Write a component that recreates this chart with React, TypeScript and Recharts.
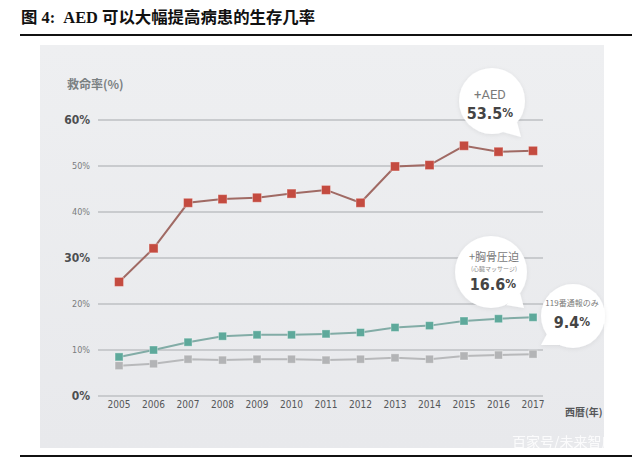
import React from 'react';
import { LineChart, Line, XAxis, YAxis, CartesianGrid } from 'recharts';

const YEARS = [2005, 2006, 2007, 2008, 2009, 2010, 2011, 2012, 2013, 2014, 2015, 2016, 2017];
const AED = [24.8, 32.1, 42.0, 42.8, 43.1, 44.0, 44.8, 42.0, 49.9, 50.2, 54.4, 53.1, 53.3];
const CPR = [8.5, 10.0, 11.7, 13.0, 13.3, 13.3, 13.5, 13.8, 14.9, 15.3, 16.3, 16.8, 17.1];
const CALL_ONLY = [6.6, 7.0, 8.0, 7.8, 8.0, 8.0, 7.8, 8.0, 8.3, 8.0, 8.7, 8.9, 9.1];
const Y_TICKS = [0, 10, 20, 30, 40, 50, 60];
const BIG_TICKS = [0, 30, 60];

const data = YEARS.map((year, i) => ({ year, aed: AED[i], cpr: CPR[i], call: CALL_ONLY[i] }));

const NUM_FONT = '"DejaVu Sans Condensed", "Liberation Sans Narrow", "Roboto", sans-serif';
const CJK_FONT = '"Noto Sans CJK JP", "Noto Sans CJK SC", sans-serif';

const squareDot = (fill: string, size: number) => (props: any) => {
  const { cx, cy, index } = props;
  if (cx == null || cy == null) return <g key={index} />;
  return (
    <rect
      key={index}
      x={cx - size / 2}
      y={cy - size / 2}
      width={size}
      height={size}
      fill={fill}
      stroke="rgba(255,255,255,0.35)"
      strokeWidth={1}
    />
  );
};

const YTick = (props: any) => {
  const { x, y, payload } = props;
  const big = BIG_TICKS.includes(payload.value);
  return (
    <text
      x={x}
      y={y}
      textAnchor="end"
      dominantBaseline="central"
      fontFamily={NUM_FONT}
      fontSize={big ? 12 : 9}
      fontWeight={big ? 700 : 400}
      fill={big ? '#4d4f51' : '#7a7c7e'}
    >
      {payload.value}%
    </text>
  );
};

const XTick = (props: any) => {
  const { x, y, payload } = props;
  return (
    <text
      x={x}
      y={y}
      textAnchor="middle"
      dominantBaseline="central"
      fontFamily={NUM_FONT}
      fontSize={10}
      fill="#555759"
    >
      {payload.value}
    </text>
  );
};

const Bubble = ({ cx, cy, r, tail }: { cx: number; cy: number; r: number; tail: number[][] }) => (
  <g filter="url(#bshadow)">
    <circle cx={cx} cy={cy} r={r} fill="#ffffff" />
    <polygon points={tail.map((p) => p.join(',')).join(' ')} fill="#ffffff" />
  </g>
);

export default function App() {
  return (
    <div style={{ position: 'absolute', left: 0, top: 0, width: 640, height: 459, background: '#ffffff', overflow: 'hidden' }}>
      <div
        style={{
          position: 'absolute',
          left: 21,
          top: 6,
          fontFamily: '"Liberation Serif", "Noto Sans CJK SC", serif',
          fontWeight: 700,
          fontSize: 16.4,
          color: '#111',
          lineHeight: '24px',
          whiteSpace: 'nowrap',
        }}
      >
        图 4:&nbsp; AED 可以大幅提高病患的生存几率
      </div>
      <div style={{ position: 'absolute', left: 20, top: 34, width: 612, height: 2, background: '#111' }} />
      <div
        style={{
          position: 'absolute',
          left: 40,
          top: 45,
          width: 564,
          height: 403,
          background: 'linear-gradient(#eeeff1, #e8e9ec)',
        }}
      />
      <div style={{ position: 'absolute', left: 0, top: 0 }}>
        <LineChart width={640} height={459} data={data} margin={{ top: 120, right: 97, bottom: 33, left: 48 }}>
          <CartesianGrid horizontal vertical={false} stroke="#c9cbce" strokeWidth={2} />
          <XAxis
            dataKey="year"
            type="number"
            domain={[2004.39, 2017.29]}
            ticks={YEARS}
            axisLine={false}
            tickLine={false}
            height={30}
            tick={<XTick />}
            interval={0}
          />
          <YAxis
            type="number"
            domain={[0, 60]}
            ticks={Y_TICKS}
            axisLine={false}
            tickLine={false}
            width={50}
            tick={<YTick />}
            interval={0}
          />
          <Line
            dataKey="call"
            stroke="#b8b9bb"
            strokeWidth={2}
            dot={squareDot('#b3b4b6', 8)}
            isAnimationActive={false}
          />
          <Line
            dataKey="cpr"
            stroke="#82aca6"
            strokeWidth={2}
            dot={squareDot('#5ea99b', 8)}
            isAnimationActive={false}
          />
          <Line
            dataKey="aed"
            stroke="#a06a64"
            strokeWidth={2}
            dot={squareDot('#c44b40', 9)}
            isAnimationActive={false}
          />
        </LineChart>
      </div>
      <svg width={640} height={459} style={{ position: 'absolute', left: 0, top: 0, pointerEvents: 'none' }}>
        <defs>
          <filter id="bshadow" x="-20%" y="-20%" width="140%" height="140%">
            <feDropShadow dx="0" dy="1" stdDeviation="2" floodColor="#000" floodOpacity="0.08" />
          </filter>
        </defs>
        <text x={67} y={83} dominantBaseline="central" fontFamily={CJK_FONT} fontSize={12} fontWeight={700} fill="#7a8082">
          救命率(%)
        </text>
        <text x={565} y={411} dominantBaseline="central" fontFamily={CJK_FONT} fontSize={10} fontWeight={700} fill="#555759">
          西暦(年)
        </text>

        <Bubble cx={492} cy={101} r={33} tail={[[517, 122], [503, 132], [521, 137]]} />
        <text x={490} y={94} textAnchor="middle" dominantBaseline="central" fontFamily="Roboto, sans-serif" fontSize={13} fill="#7a7a7a">
          +AED
        </text>
        <text x={490} y={113} textAnchor="middle" dominantBaseline="central" fontFamily={NUM_FONT} fontSize={16} fontWeight={700} fill="#444">
          53.5<tspan fontSize={12}>%</tspan>
        </text>

        <Bubble cx={491} cy={272} r={36} tail={[[520, 293], [506, 305], [524, 308]]} />
        <text x={494} y={256} textAnchor="middle" dominantBaseline="central" fontFamily={CJK_FONT} fontSize={11} fill="#7a7a7a">
          +胸骨圧迫
        </text>
        <text x={494} y={268} textAnchor="middle" dominantBaseline="central" fontFamily={CJK_FONT} fontSize={6} fill="#8a8a8a">
          (心臓マッサージ)
        </text>
        <text x={493} y={284} textAnchor="middle" dominantBaseline="central" fontFamily={NUM_FONT} fontSize={16} fontWeight={700} fill="#444">
          16.6<tspan fontSize={12}>%</tspan>
        </text>

        <Bubble cx={573} cy={316} r={32} tail={[[560, 345], [547, 334], [541, 345]]} />
        <text x={572} y={302} textAnchor="middle" dominantBaseline="central" fontFamily={CJK_FONT} fontSize={8} fill="#7a7a7a">
          119番通報のみ
        </text>
        <text x={572} y={322} textAnchor="middle" dominantBaseline="central" fontFamily={NUM_FONT} fontSize={16} fontWeight={700} fill="#444">
          9.4<tspan fontSize={12}>%</tspan>
        </text>

        <text x={512} y={441} dominantBaseline="central" fontFamily='"Noto Sans CJK SC", sans-serif' fontSize={14} fill="#ffffff" opacity={0.85}>
          百家号/未来智库
        </text>
        <rect x={20} y={455} width={612} height={2} fill="#111" />
      </svg>
    </div>
  );
}
